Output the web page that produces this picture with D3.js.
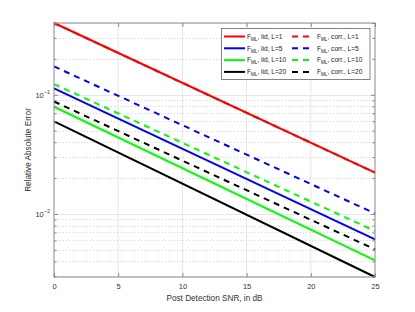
<!DOCTYPE html>
<html><head><meta charset="utf-8">
<script src="https://cdn.jsdelivr.net/npm/d3@7"></script>
<style>body{margin:0;background:#fff;}svg{display:block;font-family:"Liberation Sans",Arial,sans-serif;}</style>
</head><body>
<svg id="c" width="415" height="312"></svg>
<script>
// SNR endpoints (dB)
const snr = [0, 25];
// series values (Relative Absolute Error) at snr points
const iidL1  = [0.400, 0.0222];
const iidL5  = [0.113, 0.00612];
const iidL10 = [0.0793, 0.00408];
const iidL20 = [0.0597, 0.00296];
const corrL1  = [0.400, 0.0222];
const corrL5  = [0.173, 0.0101];
const corrL10 = [0.123, 0.00720];
const corrL20 = [0.0878, 0.00505];
const xTicks = [0, 5, 10, 15, 20, 25];
const yMajor = [0.01, 0.1];
const legendLabels = ["iid, L=1","iid, L=5","iid, L=10","iid, L=20","corr., L=1","corr., L=5","corr., L=10","corr., L=20"];

const series = [
  {v: iidL1, c: "#ff0000", dash: null, lab: legendLabels[0]},
  {v: iidL5, c: "#0000ff", dash: null, lab: legendLabels[1]},
  {v: iidL10, c: "#00ff00", dash: null, lab: legendLabels[2]},
  {v: iidL20, c: "#000000", dash: null, lab: legendLabels[3]},
  {v: corrL1, c: "#ff0000", dash: "6,5", lab: legendLabels[4]},
  {v: corrL5, c: "#0000ff", dash: "6,5", lab: legendLabels[5]},
  {v: corrL10, c: "#00ff00", dash: "6,5", lab: legendLabels[6]},
  {v: corrL20, c: "#000000", dash: "6,5", lab: legendLabels[7]}
];

const svg = d3.select("#c");
const L = 54, R = 375, T = 23, B = 277;
const allV = series.flatMap(s => s.v);
const x = d3.scaleLinear().domain([0, 25]).range([L, R]);
const y = d3.scaleLog().domain(d3.extent(allV)).range([B, T]);

// minor ticks
const [ymin, ymax] = y.domain();
const yMinor = [];
for (let e = -4; e <= 0; e++) for (let m = 2; m <= 9; m++) {
  const v = m * Math.pow(10, e);
  if (v >= ymin && v <= ymax) yMinor.push(v);
}

const g = svg.append("g");
// grid
g.selectAll(".gx").data(xTicks.slice(1, -1)).enter().append("line")
  .attr("x1", d => x(d)).attr("x2", d => x(d)).attr("y1", T).attr("y2", B)
  .attr("stroke", "#e6e6e6").attr("stroke-width", 1);
g.selectAll(".gym").data(yMinor).enter().append("line")
  .attr("x1", L).attr("x2", R).attr("y1", d => Math.round(y(d)) + 0.5).attr("y2", d => Math.round(y(d)) + 0.5)
  .attr("stroke", "#c8c8c8").attr("stroke-width", 0.8).attr("stroke-dasharray", "1,2");
g.selectAll(".gy").data(yMajor).enter().append("line")
  .attr("x1", L).attr("x2", R).attr("y1", d => Math.round(y(d)) + 0.5).attr("y2", d => Math.round(y(d)) + 0.5)
  .attr("stroke", "#e6e6e6").attr("stroke-width", 1);

// lines
const line = d3.line().x((d, i) => x(snr[i])).y(d => y(d));
const order = [4, 0, 5, 1, 6, 2, 7, 3];
order.forEach(i => {
  const s = series[i];
  g.append("path").attr("d", line(s.v)).attr("fill", "none")
    .attr("stroke", s.c).attr("stroke-width", 2)
    .attr("stroke-dasharray", s.dash);
});

// axes box
const axc = "#8a8a8a";
g.append("rect").attr("x", L).attr("y", T).attr("width", R - L).attr("height", B - T)
  .attr("fill", "none").attr("stroke", axc).attr("stroke-width", 1);

// axes with d3 (inward ticks)
const xAxB = d3.axisBottom(x).tickValues(xTicks).tickSize(-4).tickPadding(7).tickFormat(d3.format("d"));
const xAxT = d3.axisTop(x).tickValues(xTicks).tickSize(-4).tickFormat("");
const gxb = svg.append("g").attr("transform", `translate(0,${B})`).call(xAxB);
const gxt = svg.append("g").attr("transform", `translate(0,${T})`).call(xAxT);
const yAxL = d3.axisLeft(y).tickValues(yMajor).tickSize(-4).tickFormat("");
const yAxR = d3.axisRight(y).tickValues(yMajor).tickSize(-4).tickFormat("");
const yAxLm = d3.axisLeft(y).tickValues(yMinor).tickSize(-2.5).tickFormat("");
const yAxRm = d3.axisRight(y).tickValues(yMinor).tickSize(-2.5).tickFormat("");
svg.append("g").attr("transform", `translate(${L},0)`).call(yAxL);
svg.append("g").attr("transform", `translate(${R},0)`).call(yAxR);
svg.append("g").attr("transform", `translate(${L},0)`).call(yAxLm);
svg.append("g").attr("transform", `translate(${R},0)`).call(yAxRm);
svg.selectAll(".domain").remove();
svg.selectAll(".tick line").attr("stroke", axc);
gxb.selectAll("text").attr("font-size", 7.5).attr("fill", "#333").attr("font-family", '"Liberation Sans",Arial,sans-serif');

// y tick labels 10^k
yMajor.forEach(v => {
  const e = Math.round(Math.log10(v));
  const t = svg.append("text").attr("x", 50).attr("y", y(v) + 3).attr("text-anchor", "end")
    .attr("font-size", 7.5).attr("fill", "#333");
  t.append("tspan").text("10");
  t.append("tspan").attr("dy", -4).attr("font-size", 5.5).text("\u2212" + Math.abs(e));
});

// axis labels
svg.append("text").attr("x", (L + R) / 2).attr("y", 301).attr("text-anchor", "middle")
  .attr("font-size", 8.2).attr("fill", "#333").text("Post Detection SNR, in dB");
svg.append("text").attr("transform", `translate(31,${(T + B) / 2}) rotate(-90)`).attr("text-anchor", "middle")
  .attr("font-size", 8.2).attr("fill", "#333").text("Relative Absolute Error");

// legend
const lg = svg.append("g");
lg.append("rect").attr("x", 221.5).attr("y", 28.5).attr("width", 148.5).attr("height", 51)
  .attr("fill", "#fff").attr("stroke", "#666").attr("stroke-width", 0.8);
const rowY = i => 36.5 + i * 11.8;
for (let c = 0; c < 2; c++) for (let r = 0; r < 4; r++) {
  const s = series[c * 4 + r];
  const x0 = c === 0 ? 224 : 292;
  lg.append("line").attr("x1", x0).attr("x2", x0 + 21).attr("y1", rowY(r)).attr("y2", rowY(r))
    .attr("stroke", s.c).attr("stroke-width", 2).attr("stroke-dasharray", s.dash ? "6,5" : null);
  const tx = lg.append("text").attr("x", x0 + (c === 0 ? 23 : 25)).attr("y", rowY(r) + 2.3)
    .attr("font-size", 6.6).attr("fill", "#222");
  tx.append("tspan").text("F");
  tx.append("tspan").attr("dy", 2).attr("font-size", 4.6).text("ML");
  tx.append("tspan").attr("dy", -2).text(", " + s.lab);
}
</script>
</body></html>
